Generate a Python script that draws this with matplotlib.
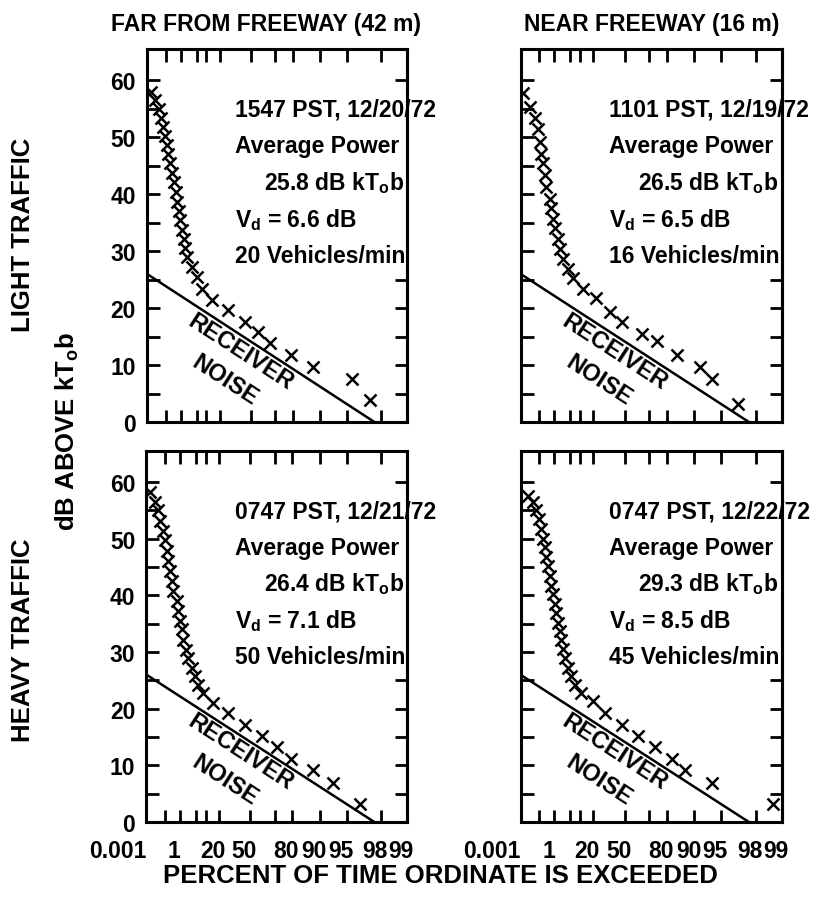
import matplotlib
matplotlib.use("Agg")
import matplotlib.pyplot as plt
from matplotlib.transforms import ScaledTranslation
import numpy as np

plt.rcParams['font.family'] = ['Liberation Sans', 'DejaVu Sans']
plt.rcParams['font.weight'] = 'bold'
plt.rcParams['mathtext.fontset'] = 'custom'
plt.rcParams['mathtext.rm'] = 'Liberation Sans:bold'
plt.rcParams['mathtext.it'] = 'Liberation Sans:bold'
plt.rcParams['mathtext.bf'] = 'Liberation Sans:bold'

# percent of time exceeded / dB above kT0b
far_light_pct = [0.0033, 0.0091, 0.024, 0.040, 0.062, 0.089, 0.12, 0.16, 0.21, 0.30, 0.41,
                 0.51, 0.64, 0.76, 0.90, 1.1, 1.4, 1.6, 2.0, 3.2, 5.0, 7.3, 13.6, 28, 45,
                 57, 66, 79, 88, 95.6, 97.3]
far_light_db = [58.0, 56.5, 55.0, 53.4, 51.8, 50.2, 48.6, 47.0, 45.4, 43.8, 42.1,
                40.4, 38.6, 37.0, 35.4, 33.8, 32.2, 30.6, 29.0, 27.2, 25.5, 23.4, 21.4, 19.6, 17.6,
                15.8, 13.8, 11.7, 9.7, 7.6, 3.8]

near_light_pct = [0.0021, 0.0124, 0.038, 0.076, 0.107, 0.142, 0.187, 0.25, 0.33, 0.54, 0.67,
                  0.85, 1.04, 1.53, 1.83, 2.6, 4.1, 6.1, 11.8, 22.5, 35.8, 47.3, 64.5, 74.8,
                  84.3, 91.3, 93.6, 96.8]
near_light_db = [57.7, 55.3, 53.3, 51.5, 49.2, 47.1, 45.4, 43.3, 41.3, 39.2, 37.5,
                 35.7, 34.0, 32.2, 30.4, 28.7, 26.9, 25.2, 23.4, 21.7, 19.3, 17.6, 15.5, 14.3,
                 11.7, 9.7, 7.6, 3.2]

far_heavy_pct = [0.0028, 0.011, 0.023, 0.034, 0.069, 0.093, 0.13, 0.17, 0.22, 0.30, 0.38,
                 0.62, 0.77, 0.96, 1.17, 1.40, 2.0, 2.4, 3.4, 4.5, 5.9, 8.4, 15, 28, 44.8,
                 59.9, 71.2, 79.6, 88.1, 92.9, 96.5]
far_heavy_db = [58.2, 56.5, 55.0, 53.2, 51.4, 49.7, 47.9, 46.1, 44.3, 42.6, 40.8,
                39.0, 37.2, 35.5, 34.0, 32.2, 30.4, 29.0, 27.2, 25.7, 24.2, 22.8, 21.0, 19.2, 17.2,
                15.1, 13.3, 11.2, 9.2, 6.8, 3.2]

near_heavy_pct = [0.0083, 0.027, 0.056, 0.10, 0.14, 0.19, 0.25, 0.33, 0.41, 0.54, 0.67,
                  0.85, 1.04, 1.24, 1.53, 1.83, 2.15, 2.6, 3.0, 4.1, 5.4, 7.0, 10.8, 19.9,
                  30.9, 47.3, 61.8, 73.6, 82.3, 87.3, 93.6, 98.76]
near_heavy_db = [57.6, 56.5, 55.0, 53.5, 51.7, 50.0, 48.5, 46.7, 45.2, 43.5, 41.7,
                 40.2, 38.4, 36.9, 35.2, 33.7, 32.2, 30.5, 29.0, 27.2, 25.7, 24.2, 22.8, 21.3,
                 19.2, 17.2, 15.1, 13.3, 11.2, 9.2, 6.8, 3.2]

noise_pct = [0.001, 97.6]
noise_db = [26.0, 0.0]

info_lines = [
    ["1547 PST, 12/20/72", "25.8", "6.6", "20"],
    ["1101 PST, 12/19/72", "26.5", "6.5", "16"],
    ["0747 PST, 12/21/72", "26.4", "7.1", "50"],
    ["0747 PST, 12/22/72", "29.3", "8.5", "45"],
]

xtick_vals = [0.001, 1, 20, 50, 80, 90, 95, 98, 99]
xtick_labels = ["0.001", "1", "20", "50", "80", "90", "95", "98", "99"]
xminor_vals = [0.1, 5, 10, 70]


def fwd(p):
    p = np.clip(np.asarray(p, dtype=float), 1e-9, 99.99999)
    return -np.log10(-np.log(p / 100.0))


def inv(x):
    return 100.0 * np.exp(-10.0 ** (-np.asarray(x, dtype=float)))


fig = plt.figure(figsize=(8.37, 9.12), dpi=100)
shift = ScaledTranslation(-6 / 100, 0, fig.dpi_scale_trans)

boxes = [
    [0.1756, 0.5362, 0.3106, 0.409],
    [0.6219, 0.5362, 0.3118, 0.409],
    [0.1750, 0.0976, 0.3112, 0.4068],
    [0.6219, 0.0976, 0.3118, 0.4068],
]
series = [
    (far_light_pct, far_light_db),
    (near_light_pct, near_light_db),
    (far_heavy_pct, far_heavy_db),
    (near_heavy_pct, near_heavy_db),
]

for i, (box, (pct, db), info) in enumerate(zip(boxes, series, info_lines)):
    ax = fig.add_axes(box)
    ax.set_xscale('function', functions=(fwd, inv))
    ax.set_xlim(0.001, 99)
    ax.set_ylim(0, 65.5)

    ax.plot(noise_pct, noise_db, color='black', lw=1.8)
    ax.plot(pct, db, ls='none', marker='x', ms=8.5, mew=1.8, color='black')

    for s in ax.spines.values():
        s.set_linewidth(2.2)

    ax.set_xticks(xtick_vals)
    ax.set_xticks(xminor_vals, minor=True)
    ax.set_yticks(np.arange(0, 61, 10))
    ax.set_yticks(np.arange(5, 60, 10), minor=True)
    ax.tick_params(which='both', direction='in', length=9, width=2,
                   top=True, bottom=True, left=True, right=False)
    ax.tick_params(axis='y', which='major', labelsize=16.5, pad=8)

    if i >= 2:
        ax.set_xticklabels(xtick_labels, fontsize=16.5)
        ax.tick_params(axis='x', which='major', pad=12)
        labs = ax.get_xticklabels()
        labs[0].set_horizontalalignment('right')
        for lab in labs[1:]:
            lab.set_transform(lab.get_transform() + shift)
    else:
        ax.tick_params(axis='x', labelbottom=False)
    if i % 2 == 1:
        ax.tick_params(axis='y', labelleft=False)

    # right-hand ticks only where the text block does not cover them
    sec = ax.secondary_yaxis('right')
    sec.set_yticks([5, 10, 15, 20, 25, 60])
    sec.tick_params(direction='in', length=9, width=2, labelright=False)
    sec.spines['right'].set_linewidth(2.2)

    ax.text(0.34, 0.839, info[0], transform=ax.transAxes, fontsize=16.5, va='center', ha='left')
    ax.text(0.34, 0.740, "Average Power", transform=ax.transAxes, fontsize=16.5, va='center', ha='left')
    ax.text(0.45, 0.643, info[1] + r" dB kT$_\mathrm{o}$b", transform=ax.transAxes,
            fontsize=16.5, va='center', ha='left')
    ax.text(0.34, 0.544, r"V$_\mathrm{d}$ = " + info[2] + " dB", transform=ax.transAxes,
            fontsize=16.5, va='center', ha='left')
    ax.text(0.34, 0.445, info[3] + " Vehicles/min", transform=ax.transAxes,
            fontsize=16.5, va='center', ha='left')

    ax.text(0.36, 0.19, "RECEIVER", transform=ax.transAxes, fontsize=17,
            rotation=-33, ha='center', va='center', rotation_mode='anchor')
    ax.text(0.30, 0.113, "NOISE", transform=ax.transAxes, fontsize=17,
            rotation=-33, ha='center', va='center', rotation_mode='anchor')

fig.text(0.318, 0.9726, "FAR FROM FREEWAY (42 m)", fontsize=16.5, ha='center', va='center')
fig.text(0.779, 0.9726, "NEAR FREEWAY (16 m)", fontsize=16.5, ha='center', va='center')
fig.text(0.0275, 0.742, "LIGHT TRAFFIC", fontsize=18.5, rotation=90, ha='center', va='center')
fig.text(0.0275, 0.298, "HEAVY TRAFFIC", fontsize=18.5, rotation=90, ha='center', va='center')
fig.text(0.080, 0.527, r"dB ABOVE kT$_\mathrm{o}$b", fontsize=18.5, rotation=90, ha='center', va='center')
fig.text(0.526, 0.0395, "PERCENT OF TIME ORDINATE IS EXCEEDED", fontsize=18.5, ha='center', va='center')

fig.savefig('out.png', dpi=100, facecolor='white')
